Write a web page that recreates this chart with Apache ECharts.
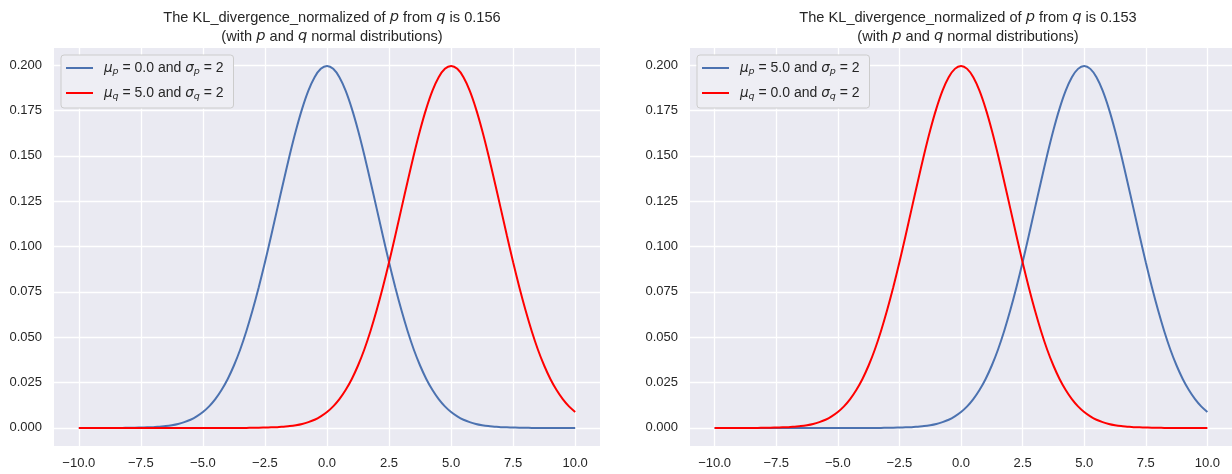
<!DOCTYPE html>
<html>
<head>
<meta charset="utf-8">
<script src="https://cdn.jsdelivr.net/npm/echarts@6/dist/echarts.min.js"></script>
<style>
  html, body { margin: 0; padding: 0; background: #ffffff; }
  #chart { width: 1232px; height: 474px; }
</style>
</head>
<body>
<div id="chart"></div>
<script>
// Sample positions shared by every curve (-10 to 10, step 0.25)
const xValues = [
  -10, -9.75, -9.5, -9.25, -9, -8.75, -8.5, -8.25, -8, -7.75,
  -7.5, -7.25, -7, -6.75, -6.5, -6.25, -6, -5.75, -5.5, -5.25,
  -5, -4.75, -4.5, -4.25, -4, -3.75, -3.5, -3.25, -3, -2.75,
  -2.5, -2.25, -2, -1.75, -1.5, -1.25, -1, -0.75, -0.5, -0.25,
  0, 0.25, 0.5, 0.75, 1, 1.25, 1.5, 1.75, 2, 2.25,
  2.5, 2.75, 3, 3.25, 3.5, 3.75, 4, 4.25, 4.5, 4.75,
  5, 5.25, 5.5, 5.75, 6, 6.25, 6.5, 6.75, 7, 7.25,
  7.5, 7.75, 8, 8.25, 8.5, 8.75, 9, 9.25, 9.5, 9.75, 10
];

// Density of N(0, 2^2)
const densityMean0 = [
  0.0000, 0.0000, 0.0000, 0.0000, 0.0000, 0.0000, 0.0000, 0.0000, 0.0001, 0.0001,
  0.0002, 0.0003, 0.0004, 0.0007, 0.0010, 0.0015, 0.0022, 0.0032, 0.0045, 0.0064,
  0.0088, 0.0119, 0.0159, 0.0209, 0.0270, 0.0344, 0.0431, 0.0533, 0.0648, 0.0775,
  0.0913, 0.1059, 0.1210, 0.1360, 0.1506, 0.1641, 0.1760, 0.1859, 0.1933, 0.1979,
  0.1995, 0.1979, 0.1933, 0.1859, 0.1760, 0.1641, 0.1506, 0.1360, 0.1210, 0.1059,
  0.0913, 0.0775, 0.0648, 0.0533, 0.0431, 0.0344, 0.0270, 0.0209, 0.0159, 0.0119,
  0.0088, 0.0064, 0.0045, 0.0032, 0.0022, 0.0015, 0.0010, 0.0007, 0.0004, 0.0003,
  0.0002, 0.0001, 0.0001, 0.0000, 0.0000, 0.0000, 0.0000, 0.0000, 0.0000, 0.0000, 0.0000
];

// Density of N(5, 2^2)
const densityMean5 = [
  0.0000, 0.0000, 0.0000, 0.0000, 0.0000, 0.0000, 0.0000, 0.0000, 0.0000, 0.0000,
  0.0000, 0.0000, 0.0000, 0.0000, 0.0000, 0.0000, 0.0000, 0.0000, 0.0000, 0.0000,
  0.0000, 0.0000, 0.0000, 0.0000, 0.0000, 0.0000, 0.0000, 0.0000, 0.0001, 0.0001,
  0.0002, 0.0003, 0.0004, 0.0007, 0.0010, 0.0015, 0.0022, 0.0032, 0.0045, 0.0064,
  0.0088, 0.0119, 0.0159, 0.0209, 0.0270, 0.0344, 0.0431, 0.0533, 0.0648, 0.0775,
  0.0913, 0.1059, 0.1210, 0.1360, 0.1506, 0.1641, 0.1760, 0.1859, 0.1933, 0.1979,
  0.1995, 0.1979, 0.1933, 0.1859, 0.1760, 0.1641, 0.1506, 0.1360, 0.1210, 0.1059,
  0.0913, 0.0775, 0.0648, 0.0533, 0.0431, 0.0344, 0.0270, 0.0209, 0.0159, 0.0119, 0.0088
];

const xTicks = [-10, -7.5, -5, -2.5, 0, 2.5, 5, 7.5, 10];
const yTicks = [0, 0.025, 0.05, 0.075, 0.1, 0.125, 0.15, 0.175, 0.2];

const klValues = ['0.156', '0.153'];
const legendMeans = [['0.0', '5.0'], ['5.0', '0.0']];
const sigmaValue = '2';

const BLUE = '#4C72B0';
const RED = '#FF0000';
const INK = '#262626';
const BG = '#EAEAF2';
const SANS = "'Liberation Sans', Arial, sans-serif";
const MATH = "'DejaVu Sans', sans-serif";

const pairs = (ys) => xValues.map((x, i) => [x, ys[i]]);
const fmtX = (v) => (v < 0 ? '\u2212' : '') + Math.abs(v).toFixed(1);

const grids = [
  { left: 54, width: 546, top: 48, height: 398 },
  { left: 690, width: 546, top: 48, height: 398 }
];

const titleRich = {
  n: { fontFamily: SANS, fontWeight: 'normal', fontSize: 14.6, color: INK, lineHeight: 19 },
  i: { fontFamily: MATH, fontWeight: 'normal', fontStyle: 'italic', fontSize: 14.6, color: INK, lineHeight: 19 }
};

const legendRich = {
  n: { fontFamily: SANS, fontSize: 14, color: INK, lineHeight: 17 },
  i: { fontFamily: MATH, fontStyle: 'italic', fontSize: 13.5, color: INK, lineHeight: 17 },
  s: { fontFamily: MATH, fontStyle: 'italic', fontSize: 9.5, color: INK, padding: [8, 0, 0, 0], lineHeight: 17 }
};

function legendLabel(letter, mean) {
  return '{i|\u03bc}{s|' + letter + '}{n| = ' + mean + ' and }{i|\u03c3}{s|' + letter + '}{n| = ' + sigmaValue + '}';
}

const titles = [], legends = [], xAxes = [], yAxes = [], series = [];

grids.forEach((g, k) => {
  titles.push({
    text: '{n|The KL_divergence_normalized of }{i|p}{n| from }{i|q}{n| is ' + klValues[k] + '}\n' +
          '{n|(with }{i|p}{n| and }{i|q}{n| normal distributions)}',
    left: g.left + g.width / 2,
    top: 3,
    textAlign: 'center',
    textStyle: { rich: titleRich, align: 'center', fontWeight: 'normal' }
  });

  const nameP = 'p' + k, nameQ = 'q' + k;
  const labels = {};
  labels[nameP] = legendLabel('p', legendMeans[k][0]);
  labels[nameQ] = legendLabel('q', legendMeans[k][1]);

  legends.push({
    data: [nameP, nameQ],
    orient: 'vertical',
    left: g.left + 7,
    top: 55,
    padding: [4, 10, 6, 5],
    itemGap: 7,
    itemWidth: 27,
    itemHeight: 2,
    icon: 'rect',
    backgroundColor: '#EEEEF4',
    borderColor: '#CCCCCC',
    borderWidth: 1,
    borderRadius: 3,
    selectedMode: false,
    formatter: (name) => labels[name],
    textStyle: { rich: legendRich, padding: [0, 0, 0, 6] }
  });

  const axisCommon = {
    gridIndex: k,
    axisLine: { show: false },
    splitLine: { show: true, lineStyle: { color: '#FFFFFF', width: 1.3 } }
  };

  xAxes.push(Object.assign({}, axisCommon, {
    type: 'value',
    min: -11,
    max: 11,
    axisTick: { show: false, customValues: xTicks },
    axisLabel: {
      customValues: xTicks,
      formatter: fmtX,
      color: INK,
      fontFamily: SANS,
      fontSize: 13,
      margin: 11
    }
  }));

  yAxes.push(Object.assign({}, axisCommon, {
    type: 'value',
    min: -0.00997,
    max: 0.2094,
    axisTick: { show: false, customValues: yTicks },
    axisLabel: {
      customValues: yTicks,
      formatter: (v) => v.toFixed(3),
      color: INK,
      fontFamily: SANS,
      fontSize: 13,
      margin: 12
    }
  }));

  const pData = k === 0 ? densityMean0 : densityMean5;
  const qData = k === 0 ? densityMean5 : densityMean0;

  series.push({
    name: nameP, type: 'line', xAxisIndex: k, yAxisIndex: k,
    data: pairs(pData), showSymbol: false, symbol: 'none',
    smooth: 0.3,
    lineStyle: { color: BLUE, width: 2 }, itemStyle: { color: BLUE },
    z: 3
  });
  series.push({
    name: nameQ, type: 'line', xAxisIndex: k, yAxisIndex: k,
    data: pairs(qData), showSymbol: false, symbol: 'none',
    smooth: 0.3,
    lineStyle: { color: RED, width: 2 }, itemStyle: { color: RED },
    z: 4
  });
});

const chart = echarts.init(document.getElementById('chart'), null, { renderer: 'canvas' });
chart.setOption({
  animation: false,
  backgroundColor: '#FFFFFF',
  title: titles,
  legend: legends,
  grid: grids.map(g => Object.assign({ backgroundColor: BG, show: true, borderWidth: 0 }, g)),
  xAxis: xAxes,
  yAxis: yAxes,
  series: series
});
</script>
</body>
</html>
